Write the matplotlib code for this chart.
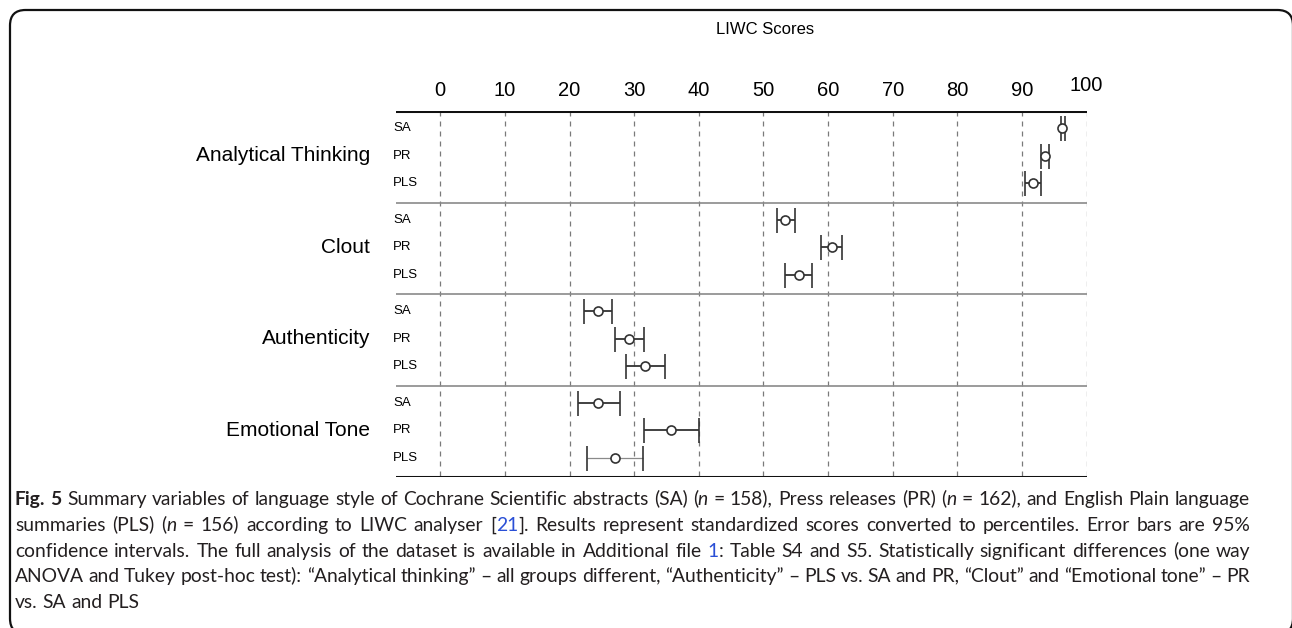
import numpy as np
import matplotlib; matplotlib.use("Agg")
import matplotlib.pyplot as plt
from matplotlib.patches import FancyBboxPatch
from matplotlib.transforms import ScaledTranslation
from matplotlib.backends.backend_agg import get_hinting_flag

# LIWC summary variables, mean and 95% CI (percentiles)
CATS = ["Analytical Thinking", "Clout", "Authenticity", "Emotional Tone"]
GROUPS = ["SA", "PR", "PLS"]
MEAN = [[96.2, 93.5, 91.7], [53.4, 60.6, 55.5], [24.4, 29.2, 31.7], [24.4, 35.7, 27.0]]
LO = [[96.0, 92.9, 90.4], [52.1, 58.9, 53.4], [22.3, 27.1, 28.7], [21.3, 31.5, 22.7]]
HI = [[96.6, 94.2, 92.9], [54.9, 62.2, 57.5], [26.5, 31.5, 34.8], [27.8, 40.0, 31.4]]
TICKS = list(range(0, 101, 10))

W, H = 1292, 628
fx = lambda px: px / W
fy = lambda py: 1 - py / H

fig = plt.figure(figsize=(W / 100, H / 100), dpi=100)
fig.patch.set_facecolor("white")
box = FancyBboxPatch((fx(10), fy(634)), fx(1293) - fx(10), fy(10) - fy(634),
                     boxstyle="round,pad=0,rounding_size=0.012", transform=fig.transFigure,
                     fc="none", ec="#111", lw=1.6, mutation_aspect=W / H)
fig.patches.append(box)

ax = fig.add_axes([fx(396), fy(477), fx(1086.6) - fx(396), (477 - 111) / H])
ax.set_xlim(-6.85, 100); ax.set_ylim(4, 0)
for s in ax.spines.values(): s.set_visible(False)
ax.set_yticks([])
ax.xaxis.tick_top()
ax.set_xticks(TICKS)
ax.set_xticklabels([str(t) for t in TICKS], fontsize=14.5, family="Liberation Sans")
ax.tick_params(axis="x", length=0, pad=8)
lab100 = ax.get_xticklabels()[-1]
lab100.set_transform(lab100.get_transform() + ScaledTranslation(0, 5 / 100, fig.dpi_scale_trans))

ax.vlines(TICKS, 0, 4, colors="#7a7a7a", lw=0.9, linestyles=(0, (4, 4)), zorder=1)
ax.axhline(0, color="#111", lw=2.2, zorder=3)
ax.axhline(4, color="#111", lw=2.2, zorder=3)
for k in (1, 2, 3):
    ax.axhline(k, color="#8a8a8a", lw=1.2, zorder=3)

OFFS = [0.19, 0.49, 0.79]
for i, cat in enumerate(CATS):
    ax.text(-0.0376, i + OFFS[1], cat, transform=ax.get_yaxis_transform(), ha="right",
            va="center", fontsize=15, family="Liberation Sans")
    for j, g in enumerate(GROUPS):
        y = i + OFFS[j]
        ax.text(-0.004, y, g, transform=ax.get_yaxis_transform(), ha="left", va="center",
                fontsize=9.5, family="Liberation Sans")
        m = MEAN[i][j]
        line, caps, bars = ax.errorbar(m, y, xerr=[[m - LO[i][j]], [HI[i][j] - m]], fmt="o",
                                       mfc="white", mec="#333", mew=1.2, ms=6.5, ecolor="#333",
                                       elinewidth=1.3, capsize=9, capthick=1.7, zorder=4)
        if i == 3 and j == 2:
            bars[0].set_color("#8a8a8a"); bars[0].set_linewidth(0.9)

fig.text(fx(765), fy(30), "LIWC Scores", ha="center", va="center", fontsize=12,
         family="Liberation Sans")

# caption, drawn word by word for bold / italic / link colours and justification
N, B, I, L = {}, {"weight": "bold"}, {"style": "italic"}, {"color": "#2a4fd6"}
CAPTION = [
    [("Fig. 5", B), (" Summary variables of language style of Cochrane Scientific abstracts (SA) (", N),
     ("n", I), (" = 158), Press releases (PR) (", N), ("n", I), (" = 162), and English Plain language", N)],
    [("summaries (PLS) (", N), ("n", I), (" = 156) according to LIWC analyser [", N), ("21", L),
     ("]. Results represent standardized scores converted to percentiles. Error bars are 95%", N)],
    [("confidence intervals. The full analysis of the dataset is available in Additional file ", N),
     ("1", L), (": Table S4 and S5. Statistically significant differences (one way", N)],
    [("ANOVA and Tukey post-hoc test): \u201cAnalytical thinking\u201d \u2013 all groups different, "
      "\u201cAuthenticity\u201d \u2013 PLS vs. SA and PR, \u201cClout\u201d and \u201cEmotional tone\u201d \u2013 PR", N)],
    [("vs. SA and PLS", N)],
]
JUSTIFY = [True, True, True, True, False]
BASE = [505, 531, 557, 582, 608]
X0, X1 = 15.0, 1250.0
CAP_KW = dict(fontsize=13.9, family="Lato", color="#231f20")
rend = fig.canvas.get_renderer()


def advance(s, kw):
    t = fig.text(0, 0, "x" + s + "x", **{**CAP_KW, **kw})
    t2 = fig.text(0, 0, "xx", **{**CAP_KW, **kw})
    w = t.get_window_extent(rend).width - t2.get_window_extent(rend).width
    t.remove(); t2.remove()
    return w


def raster_shift(t):
    # Agg snaps each word's bitmap to whole pixels from its own bbox;
    # undo that so all words of a line sit on one baseline
    try:
        font = rend._prepare_font(t.get_fontproperties())
        font.set_text(t.get_text(), 0, flags=get_hinting_flag())
        d_raw = font.get_descent()
        _, h_raw = font.get_width_height()
        return round(d_raw / 64.0) - (h_raw // 64) + int((h_raw - d_raw) / 64.0)
    except Exception:
        return 0


for line, by, just in zip(CAPTION, BASE, JUSTIFY):
    toks = []
    for s, kw in line:
        for k, p in enumerate(s.split(" ")):
            if k > 0:
                toks.append((" ", kw))
            if p:
                toks.append((p, kw))
    widths = [advance(s, kw) for s, kw in toks]
    nsp = sum(1 for s, _ in toks if s == " ")
    extra = (X1 - X0 - sum(widths)) / nsp if (just and nsp) else 0.0
    x = X0
    for (s, kw), w in zip(toks, widths):
        if s == " ":
            x += w + extra
            continue
        t = fig.text(fx(x), fy(by), s, va="baseline", ha="left", **{**CAP_KW, **kw})
        t.set_y(fy(by - raster_shift(t)))
        x += w

fig.savefig("out.png", dpi=100)
